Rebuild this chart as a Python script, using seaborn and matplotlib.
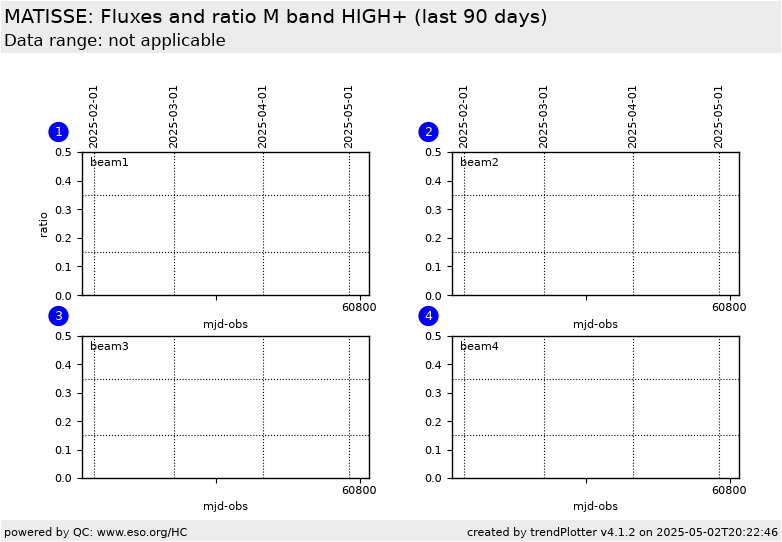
import matplotlib
matplotlib.use("Agg")
import matplotlib.pyplot as plt
from matplotlib.patches import Rectangle
import pandas as pd
import seaborn as sns

beams = ["beam1", "beam2", "beam3", "beam4"]
badges = ["1", "2", "3", "4"]
date_labels = ["2025-02-01", "2025-03-01", "2025-04-01", "2025-05-01"]
date_mjd = [60707.3, 60735.3, 60766.3, 60796.3]
ratio_limits = [0.15, 0.35]
ratio_ticks = [0.0, 0.1, 0.2, 0.3, 0.4, 0.5]
mjd_ticks = [60750, 60800]
mjd_tick_labels = ["", "60800"]
obs_mjd = []
obs_ratio = []

W, H = 782, 542
sns.set_style("ticks", {"axes.edgecolor": "black", "xtick.color": "black", "ytick.color": "black",
                        "text.color": "black", "axes.labelcolor": "black"})
plt.rcParams["font.family"] = ["DejaVu Sans"]
plt.rcParams["text.hinting"] = "native"
fig = plt.figure(figsize=(W / 100, H / 100), dpi=100)


def frac_rect(l, t, r, b):
    return [l / W, 1 - b / H, (r - l) / W, (b - t) / H]


fig.add_artist(Rectangle((1 / W, 1 - 53 / H), 780 / W, 52 / H, transform=fig.transFigure, color="#ececec", lw=0))
fig.add_artist(Rectangle((1 / W, 1 - 541 / H), 780 / W, 21 / H, transform=fig.transFigure, color="#ececec", lw=0))

fig.text(4 / W, 1 - 18 / H, "MATISSE: Fluxes and ratio M band HIGH+ (last 90 days)", fontsize=14, va="center", ha="left")
fig.text(4 / W, 1 - 41 / H, "Data range: not applicable", fontsize=12, va="center", ha="left")
fig.text(4 / W, 1 - 532.5 / H, "powered by QC: www.eso.org/HC", fontsize=8, va="center", ha="left")
fig.text(778 / W, 1 - 532.5 / H, "created by trendPlotter v4.1.2 on 2025-05-02T20:22:46", fontsize=8, va="center", ha="right")

lefts = [82, 452, 82, 452]
tops = [152, 152, 336, 336]
df = pd.DataFrame({"mjd": obs_mjd, "ratio": obs_ratio}, dtype=float)

for i, beam in enumerate(beams):
    l, t = lefts[i], tops[i]
    ax = fig.add_axes(frac_rect(l, t, l + 287, t + 143 if i < 2 else t + 142))
    sns.lineplot(data=df, x="mjd", y="ratio", ax=ax)
    ax.set_xlim(60703.2, 60803.3)
    ax.set_ylim(0, 0.5)
    ax.set_yticks(ratio_ticks)
    ax.set_xticks(mjd_ticks)
    ax.set_xticklabels(mjd_tick_labels)
    ax.tick_params(labelsize=8, length=3.5, width=0.8)
    ax.tick_params(axis="x", pad=1.5)
    ax.set_xlabel("mjd-obs", fontsize=8, labelpad=4)
    ax.set_ylabel("ratio" if i == 0 else "", fontsize=8)
    for y in ratio_limits:
        ax.axhline(y, color="black", ls=":", lw=0.8)
    for x in date_mjd:
        ax.axvline(x, color="black", ls=":", lw=0.8)
    ax.text(0.027, 0.925, beam, transform=ax.transAxes, fontsize=8, va="center", ha="left")
    for side in ax.spines.values():
        side.set_visible(True)
        side.set_linewidth(1.0)
    if i < 2:
        top = ax.twiny()
        top.set_xlim(ax.get_xlim())
        top.set_xticks(date_mjd)
        top.set_xticklabels(date_labels, rotation=90, fontsize=8)
        top.tick_params(length=0, pad=3)
        for side in top.spines.values():
            side.set_visible(False)
    fig.text((l - 23.5) / W, 1 - (t - 20) / H, badges[i], color="white", fontsize=9, ha="center", va="center",
             bbox=dict(boxstyle="circle,pad=0.25", fc="#0000ff", ec="#0000ff", lw=0))

fig.savefig("out.png", dpi=100)
